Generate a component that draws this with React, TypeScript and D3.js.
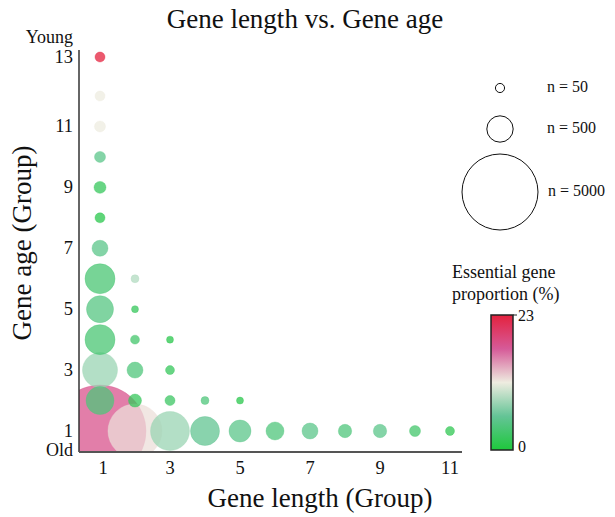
import React from 'react';
import * as d3 from 'd3';

// gene length group, gene age group, gene count, essential gene proportion (%)
const lengthGroup = [1, 1, 1, 1, 1, 1, 1, 1, 1, 1, 1, 1, 1, 2, 2, 2, 2, 2, 2, 3, 3, 3, 3, 4, 4, 5, 5, 6, 7, 8, 9, 10, 11];
const ageGroup = [13, 12, 11, 10, 9, 8, 7, 6, 5, 4, 3, 2, 1, 6, 5, 4, 3, 2, 1, 4, 3, 2, 1, 2, 1, 2, 1, 1, 1, 1, 1, 1, 1];
const geneCount = [61, 61, 75, 75, 90, 61, 169, 663, 527, 663, 927, 570, 7570, 37, 28, 48, 169, 108, 2380, 28, 48, 61, 1170, 37, 616, 28, 338, 218, 169, 115, 115, 75, 48];
const essentialPct = [23, 11.5, 11.5, 5, 2, 1, 5, 3.5, 4.5, 3.5, 8, 4, 18, 9, 2, 3, 4, 2, 12, 1, 2, 2.5, 8, 4, 5.5, 1, 5, 4, 5, 4, 5, 3, 1.5];

const xTicks = [1, 3, 5, 7, 9, 11];
const yTicks = [1, 3, 5, 7, 9, 11, 13];
const sizeLegend = [50, 500, 5000];
const colorStops = [0, 5.75, 11.5, 17.25, 23];
const colorRange = ['#1ec83c', '#64c496', '#eeece0', '#d65a98', '#e4223e'];

const W = 615;
const H = 517;
const font = '"Liberation Serif", "Times New Roman", serif';

const App: React.FC = () => {
  const x = d3.scaleLinear().domain([1, 11]).range([100, 450]);
  const y = d3.scaleLinear().domain([1, 12, 13]).range([431, 96, 57]);
  const r = d3.scalePow().exponent(0.46).domain([0, 5000]).range([0, 38]);
  const color = d3.scaleLinear<string>().domain(colorStops).range(colorRange);
  const cbar = d3.scaleLinear().domain([0, 23]).range([450, 315]);

  const plot = { left: 79, right: 462, top: 50, bottom: 452 };

  const points = lengthGroup
    .map((lg, i) => ({ lg, ag: ageGroup[i], n: geneCount[i], p: essentialPct[i] }))
    .sort((a, b) => b.n - a.n);

  const legendY = [88, 129, 192];

  return (
    <svg width={W} height={H} style={{ position: 'absolute', left: 0, top: 0, background: '#fff' }} fontFamily={font}>
      <defs>
        <clipPath id="plotClip">
          <rect x={plot.left} y={plot.top} width={plot.right - plot.left} height={plot.bottom - plot.top} />
        </clipPath>
        <linearGradient id="cgrad" x1="0" y1="1" x2="0" y2="0">
          {colorStops.map((s, i) => (
            <stop key={i} offset={`${(s / 23) * 100}%`} stopColor={colorRange[i]} />
          ))}
        </linearGradient>
      </defs>

      <text x={305} y={28} textAnchor="middle" fontSize={27} fill="#111">Gene length vs. Gene age</text>

      <g clipPath="url(#plotClip)">
        {points.map((d, i) => (
          <circle
            key={i}
            cx={x(d.lg)}
            cy={y(d.ag)}
            r={r(d.n)}
            fill={color(d.p)}
            fillOpacity={0.75}
            stroke={color(d.p)}
            strokeOpacity={0.35}
            strokeWidth={1}
          />
        ))}
      </g>

      {/* axes */}
      <line x1={plot.left} y1={plot.top} x2={plot.left} y2={plot.bottom} stroke="#333" strokeWidth={1.5} />
      <line x1={plot.left} y1={plot.bottom} x2={plot.right} y2={plot.bottom} stroke="#555" strokeWidth={2} />

      {yTicks.map(t => (
        <text key={t} x={73} y={y(t) + 6} textAnchor="end" fontSize={18.5} fill="#111">{t}</text>
      ))}
      <text x={73} y={43} textAnchor="end" fontSize={18} fill="#111">Young</text>
      <text x={73} y={456} textAnchor="end" fontSize={18} fill="#111">Old</text>

      {xTicks.map(t => (
        <text key={t} x={x(t) + (t === 1 ? 3 : 0)} y={474} textAnchor="middle" fontSize={18.5} fill="#111">{t}</text>
      ))}

      <text x={320} y={507} textAnchor="middle" fontSize={27} fill="#111">Gene length (Group)</text>
      <text transform="translate(31,243) rotate(-90)" textAnchor="middle" fontSize={27} fill="#111">Gene age (Group)</text>

      {/* size legend */}
      {sizeLegend.map((n, i) => (
        <g key={n}>
          <circle cx={500} cy={legendY[i]} r={r(n)} fill="none" stroke="#111" strokeWidth={1} />
          <text x={547 + (i === 2 ? 1 : 0)} y={legendY[i] + 4} fontSize={16} fill="#111">n = {n}</text>
        </g>
      ))}

      {/* color legend */}
      <text x={452} y={278} fontSize={18} fill="#111">Essential gene</text>
      <text x={452} y={300} fontSize={18} fill="#111">proportion (%)</text>
      <rect x={491} y={cbar(23)} width={22} height={cbar(0) - cbar(23)} fill="url(#cgrad)" stroke="#222" strokeWidth={1.5} />
      <line x1={513} y1={cbar(23)} x2={517} y2={cbar(23)} stroke="#222" />
      <text x={518} y={cbar(23) + 6} fontSize={16} fill="#111">23</text>
      <text x={518} y={cbar(0) + 2} fontSize={16} fill="#111">0</text>
    </svg>
  );
};

export default App;
